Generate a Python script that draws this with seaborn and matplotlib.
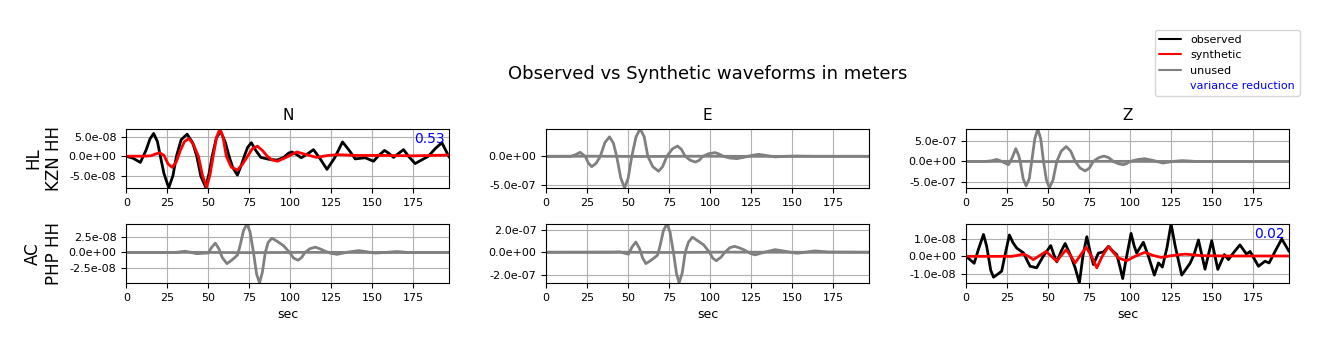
import numpy as np
import matplotlib.pyplot as plt
from matplotlib.lines import Line2D
from matplotlib.ticker import FormatStrFormatter, MultipleLocator
import seaborn as sns

sns.set_style("ticks", {"axes.edgecolor": "black", "xtick.color": "black",
                        "ytick.color": "black", "text.color": "black",
                        "axes.labelcolor": "black"})
plt.rcParams['font.family'] = 'DejaVu Sans'

components = ["N", "E", "Z"]
stations = ["HL\nKZN HH", "AC\nPHP HH"]

# (sec, amplitude) pairs, amplitude in units of the scale below
# HL KZN HH
kzn_n_obs = [(0, 0), (4, -0.5), (8.6, -1.6), (12, 1.5), (14.5, 4.5), (16.7, 5.9), (19, 3.8),
             (20.8, 0), (23, -4.5), (25.9, -8.2), (28.5, -5), (30.6, 0), (33.5, 4.3), (37.1, 5.7),
             (40.5, 3.5), (43, 0), (45.5, -5.2), (48.4, -8.0), (50.5, -4.5), (52.4, 0), (55, 4.8),
             (57.6, 6.4), (60.5, 3.5), (62.7, 0), (65, -3.0), (67.8, -4.9), (70, -2.5), (72, 0),
             (74, 2.3), (76.3, 3.5), (79, 1.5), (82, -0.3), (87, -0.8), (92, -1.0), (96, -0.3),
             (99, 0.8), (101, 1.1), (104, 0.4), (106.7, -0.4), (110.5, 0.6), (114.2, 1.7),
             (118, -0.5), (122.4, -3.4), (127, -0.5), (131.9, 3.7), (136, 1.5), (139.6, -0.7),
             (145.7, -0.4), (150.8, -1.3), (154, 0.2), (157.5, 1.5), (160, 0.8), (163, -0.3),
             (166, 0.7), (169.1, 1.7), (172.5, -0.2), (176.2, -1.9), (180, -1.0), (184.3, 0),
             (188.5, 2.0), (192.5, 3.5), (197, -0.3)]
kzn_n_syn = [(0, 0), (10, 0), (15, 0.1), (18, 0.6), (20.4, 0.9), (23, 0.2), (25.5, -2.0),
             (28, -2.9), (30.5, -1.5), (33, 1.5), (35.5, 3.8), (38.2, 4.6), (41, 3.0), (44, 0),
             (46.5, -5.0), (49, -8.0), (51, -5.0), (53, 0), (55, 4.8), (57.1, 7.1), (59, 5.0),
             (61, 0), (64, -2.8), (67.8, -3.6), (71, -2.0), (74, 0), (77, 2.0), (80, 2.6),
             (83, 1.5), (86, 0), (89, -1.0), (92.2, -1.3), (96, -0.6), (99.4, 0.1), (104, 1.1),
             (110, 0.4), (116, -0.3), (123, 0.2), (129.5, 0.4), (140, 0.2), (158, 0.2),
             (175, 0.1), (197, 0.3)]
kzn_e_obs = [(0, 0), (15, 0), (18, 0.3), (20.7, 0.7), (23.8, 0), (25.8, -1.2), (27.8, -1.8),
             (30.5, -1.2), (33, 0), (35.8, 2.4), (38.6, 3.4), (41, 2.3), (43, 0), (45.5, -3.8),
             (47.8, -5.5), (50, -3.8), (52.2, 0), (54.8, 3.4), (57.3, 4.8), (59.8, 3.4), (62, 0),
             (65, -1.8), (68.5, -2.6), (71, -1.8), (73.6, 0), (77, 1.3), (80.1, 1.8), (82.5, 1.2),
             (84.8, 0), (88, -0.7), (90.9, -1.0), (93.3, -0.7), (95.5, 0), (99, 0.45), (103, 0.65),
             (105.5, 0.4), (108, 0), (112, -0.3), (116.3, -0.4), (120, -0.2), (124.4, 0.1),
             (129.5, 0.35), (134, 0.15), (139.6, -0.1), (146, 0), (152, 0.05), (165, 0), (197, 0)]
kzn_e_syn = [(0, 0), (30, 0.02), (60, -0.03), (90, 0.02), (120, 0), (197, 0)]
kzn_z_obs = [(0, 0), (12, 0), (15.5, 0.15), (18.7, 0.5), (21.7, 0), (25.8, -0.8), (28, 0.8),
             (30.3, 3.1), (32, 1.5), (33, 0), (34.8, -4.2), (36.6, -5.9), (38.5, -4.2), (40, 0),
             (41.9, 5.5), (43.7, 7.9), (45.5, 5.5), (47.2, 0), (49, -4.5), (50.8, -6.4), (53, -4.5),
             (55.3, 0), (58, 2.5), (61, 3.6), (63.8, 2.5), (66.5, 0), (69.5, -1.6), (72.6, -2.3),
             (75.2, -1.6), (77.6, 0), (80.8, 0.9), (84.1, 1.3), (87, 0.9), (89.8, 0), (92.8, -0.55),
             (95.9, -0.8), (98, -0.5), (100, 0), (104.5, 0.45), (109, 0.66), (114.5, 0.2),
             (120, -0.4), (126, 0), (132, 0.2), (140, 0), (197, 0)]
kzn_z_syn = [(0, 0), (30, 0.03), (50, -0.04), (80, 0.03), (120, 0), (197, 0)]

# AC PHP HH
php_n_obs = [(0, 0), (30, 0), (36, 0.2), (43, -0.2), (49, -0.1), (50, -0.1), (52, 0.8),
             (54.3, 1.5), (56.5, 0.6), (58.5, -0.8), (61.4, -1.8), (63.5, -1.4), (65.4, -1.0),
             (67.9, -0.4), (69.5, 1.2), (71.5, 3.5), (73.6, 4.6), (75.5, 3.3), (77.6, 0),
             (79.5, -3.5), (81.3, -4.9), (83, -3.2), (84.8, 0), (86.5, 1.6), (88.8, 2.3), (92, 1.8),
             (95.9, 1.1), (99.6, 0), (102, -0.9), (104.7, -1.25), (107, -0.8), (109, 0), (112, 0.6),
             (115.2, 0.85), (118, 0.6), (121.3, 0.2), (125, -0.15), (128.5, -0.3), (135, 0.05),
             (141.7, 0.3), (147, 0.1), (151.8, -0.1), (158, 0), (165, 0.15), (172, 0), (197, 0)]
php_n_syn = [(0, 0), (40, 0.02), (75, -0.03), (110, 0.02), (150, 0), (197, 0)]
php_e_obs = [(0, 0), (40, 0), (45, 0.03), (48.2, -0.1), (50.2, -0.17), (52.5, 0.5), (54.7, 0.9),
             (57, 0.3), (58.8, -0.5), (60.8, -1.0), (63, -0.8), (65.4, -0.55), (67.9, -0.26),
             (69.5, 0.6), (71.5, 1.9), (73.6, 2.5), (75.5, 1.8), (77.6, 0), (79.5, -1.9),
             (81.1, -2.7), (83, -1.8), (84.8, 0), (86.8, 0.9), (89.2, 1.33), (92.5, 1.0),
             (95.9, 0.67), (99.6, 0), (101.5, -0.5), (103.7, -0.75), (106.5, -0.45), (109, 0),
             (112, 0.4), (114.8, 0.52), (118, 0.38), (121.3, 0.17), (124.5, -0.1), (127.4, -0.23),
             (133, 0), (139.6, 0.23), (146, 0.08), (152.8, -0.09), (158, 0), (164, 0.12),
             (172, 0.02), (197, 0)]
php_e_syn = [(0, 0), (40, 0.01), (75, -0.02), (110, 0.01), (150, 0), (197, 0)]
php_z_obs = [(0, 0), (2.5, -0.2), (4.9, -0.4), (7.5, 0.4), (10.6, 1.26), (12.5, 0.6), (13.6, 0),
             (15, -0.8), (16.7, -1.2), (19, -1.05), (21.7, -0.85), (24, 0.2), (26.4, 1.23),
             (28.5, 0.8), (30.9, 0.47), (35, 0.2), (37, -0.2), (39, -0.57), (43, -0.66), (47, 0),
             (51.6, 0.62), (53.5, 0.1), (55.3, -0.32), (58, 0.3), (60.4, 0.74), (63.5, 0.1),
             (66.5, -0.66), (69.1, -1.53), (71.2, 0), (73.6, 1.13), (75.8, 0.2), (77.6, -0.47),
             (80.7, 0.19), (83.7, 0.25), (86.8, 0.57), (89.5, 0.3), (91.9, 0.1), (93.8, -0.6),
             (95.5, -1.28), (97.5, -0.2), (100.6, 1.32), (102.5, 0.6), (104, 0.19), (108.1, 0.81),
             (111.2, 0), (114.8, -1.08), (117.3, -0.38), (119.7, -0.62), (122.5, 0.5), (125, 1.87),
             (127.5, 0.6), (131.5, -1.08), (136.6, -0.4), (139, 0.1), (141.7, 0.94), (145.7, -0.74),
             (149.8, 0.9), (153.5, -0.75), (157.5, 0.1), (160, -0.19), (163, 0.2), (167, 0.66),
             (171, 0.13), (173.2, 0.28), (178.3, -0.57), (182.3, -0.28), (184.8, -0.38),
             (188.5, 0.3), (192.5, 1.0), (197, 0.28)]
php_z_syn = [(0, 0), (28, 0), (31, 0.05), (35, 0.13), (38, 0.0), (41, -0.19), (45, 0.05),
             (48.8, 0.28), (52, 0), (55.3, -0.28), (58, 0.05), (61, 0.38), (64, 0), (66.5, -0.38),
             (70, 0.1), (73.2, 0.53), (76.5, 0), (79.7, -0.66), (83, 0), (86.8, 0.57), (90, 0.2),
             (93, -0.1), (98, -0.25), (103, 0), (109, 0.23), (114, 0.05), (119, -0.06),
             (125.4, 0.04), (133.5, 0.13), (143.7, 0.04), (160, 0.02), (180, 0.02), (197, 0.02)]

observed = [[kzn_n_obs, kzn_e_obs, kzn_z_obs], [php_n_obs, php_e_obs, php_z_obs]]
synthetic = [[kzn_n_syn, kzn_e_syn, kzn_z_syn], [php_n_syn, php_e_syn, php_z_syn]]
scales = [[1e-8, 1e-7, 1e-7], [1e-8, 1e-7, 1e-8]]
used = [[True, False, False], [False, False, True]]
var_red = [["0.53", None, None], [None, None, "0.02"]]
ytick_step = [[5e-8, 5e-7, 5e-7], [2.5e-8, 2e-7, 1e-8]]

fig, axes = plt.subplots(2, 3, figsize=(13.29, 3.51), dpi=100)
fig.subplots_adjust(left=0.095, right=0.970, top=0.633, bottom=0.194, wspace=0.30, hspace=0.61)

for i in range(2):
    for j in range(3):
        ax = axes[i, j]
        obs = np.array(observed[i][j])
        syn = np.array(synthetic[i][j])
        s = scales[i][j]
        c_obs = 'black' if used[i][j] else 'gray'
        c_syn = 'red' if used[i][j] else 'gray'
        sns.lineplot(x=obs[:, 0], y=obs[:, 1] * s, ax=ax, color=c_obs, lw=2,
                     solid_joinstyle='round')
        sns.lineplot(x=syn[:, 0], y=syn[:, 1] * s, ax=ax, color=c_syn, lw=2,
                     solid_joinstyle='round')
        ax.margins(x=0, y=0)
        ax.grid(True, color='#b0b0b0', lw=0.8)
        ax.xaxis.set_major_locator(MultipleLocator(25))
        ax.yaxis.set_major_locator(MultipleLocator(ytick_step[i][j]))
        ax.yaxis.set_major_formatter(FormatStrFormatter('%.1e'))
        ax.tick_params(labelsize=8)
        if var_red[i][j]:
            ax.text(0.985, 0.83, var_red[i][j], transform=ax.transAxes, ha='right',
                    va='center', color='blue', fontsize=10)
        if i == 0:
            ax.set_title(components[j], fontsize=11)
        if i == 1:
            ax.set_xlabel("sec", fontsize=9)
        if j == 0:
            ax.set_ylabel(stations[i], fontsize=12)

fig.suptitle("Observed vs Synthetic waveforms in meters", fontsize=13, x=0.5325, y=0.815)

handles = [Line2D([], [], color='black', lw=1.5),
           Line2D([], [], color='red', lw=1.5),
           Line2D([], [], color='gray', lw=1.5),
           Line2D([], [], color='none')]
labels = ["observed", "synthetic", "unused", "variance reduction"]
leg = fig.legend(handles, labels, loc='upper right', bbox_to_anchor=(0.982, 0.93), fontsize=8)
leg.get_texts()[3].set_color('blue')

fig.savefig("out.png", dpi=100)
